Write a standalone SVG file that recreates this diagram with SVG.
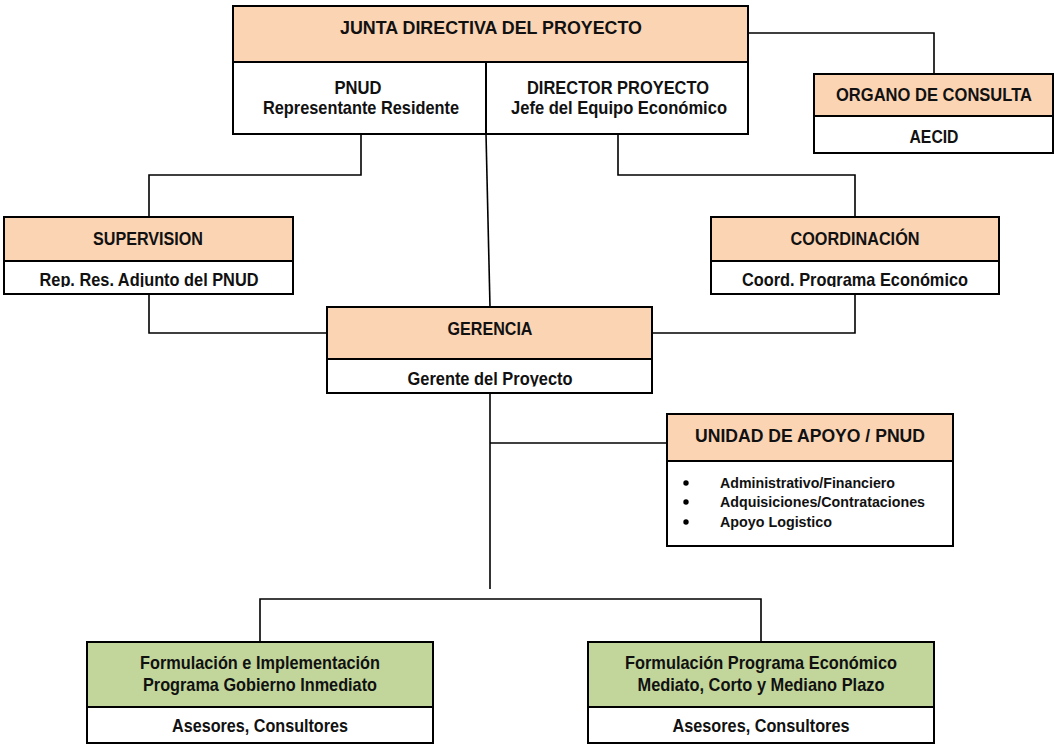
<svg xmlns="http://www.w3.org/2000/svg" width="1054" height="744" viewBox="0 0 1054 744">
<style>
.box{stroke:#000;stroke-width:2;}
.or{fill:#FBD4B4;}
.wh{fill:#FFFFFF;}
.gr{fill:#C2D69B;}
.t{font-family:"Liberation Sans Narrow","Liberation Sans",Arial,sans-serif;font-weight:bold;font-size:18.5px;fill:#111;text-anchor:middle;}
.s{font-family:"Liberation Sans Narrow","Liberation Sans",Arial,sans-serif;font-weight:bold;font-size:15px;fill:#111;}
.ln{fill:none;stroke:#000;stroke-width:1.6;}
</style>
<defs>
<clipPath id="c1"><rect x="0" y="260" width="1054" height="27"/></clipPath>
<clipPath id="c2"><rect x="0" y="360" width="1054" height="26.5"/></clipPath>
</defs>
<rect width="1054" height="744" fill="#fff"/>
<g id="connectors">
<polyline class="ln" points="748,33 934,33 934,74"/>
<polyline class="ln" points="361,134 361,175 149,175 149,217"/>
<polyline class="ln" points="618,134 618,175 855,175 855,217"/>
<line class="ln" x1="486" y1="134" x2="490" y2="307"/>
<polyline class="ln" points="149,294 149,333 327,333"/>
<polyline class="ln" points="855,294 855,333 652,333"/>
<line class="ln" x1="490" y1="393" x2="490" y2="589"/>
<line class="ln" x1="490" y1="443" x2="667" y2="443"/>
<polyline class="ln" points="260,642 260,599 761,599 761,642"/>
</g>
<g id="junta">
<rect class="box or" x="233" y="6" width="515" height="56"/>
<rect class="box wh" x="233" y="62" width="515" height="72"/>
<line class="box" x1="486" y1="62" x2="486" y2="134"/>
<text class="t" x="491" y="34" textLength="302" lengthAdjust="spacingAndGlyphs">JUNTA DIRECTIVA DEL PROYECTO</text>
<text class="t" x="358" y="94" textLength="47" lengthAdjust="spacingAndGlyphs">PNUD</text>
<text class="t" x="361" y="114" textLength="196" lengthAdjust="spacingAndGlyphs">Representante Residente</text>
<text class="t" x="618" y="94" textLength="182" lengthAdjust="spacingAndGlyphs">DIRECTOR PROYECTO</text>
<text class="t" x="619" y="114" textLength="216" lengthAdjust="spacingAndGlyphs">Jefe del Equipo Económico</text>
</g>
<g id="organo">
<rect class="box or" x="814" y="74" width="239" height="42"/>
<rect class="box wh" x="814" y="116" width="239" height="37"/>
<text class="t" x="934" y="101" textLength="196" lengthAdjust="spacingAndGlyphs">ORGANO DE CONSULTA</text>
<text class="t" x="934" y="143" textLength="49" lengthAdjust="spacingAndGlyphs">AECID</text>
</g>
<g id="supervision">
<rect class="box or" x="4" y="217" width="289" height="44"/>
<rect class="box wh" x="4" y="261" width="289" height="33"/>
<text class="t" x="148" y="245" textLength="110" lengthAdjust="spacingAndGlyphs">SUPERVISION</text>
<text class="t" x="149" y="286" textLength="219" lengthAdjust="spacingAndGlyphs" clip-path="url(#c1)">Rep. Res. Adjunto del PNUD</text>
</g>
<g id="coordinacion">
<rect class="box or" x="711" y="217" width="288" height="44"/>
<rect class="box wh" x="711" y="261" width="288" height="33"/>
<text class="t" x="855" y="245" textLength="129" lengthAdjust="spacingAndGlyphs">COORDINACIÓN</text>
<text class="t" x="855" y="286" textLength="226" lengthAdjust="spacingAndGlyphs" clip-path="url(#c1)">Coord. Programa Económico</text>
</g>
<g id="gerencia">
<rect class="box or" x="327" y="307" width="325" height="52"/>
<rect class="box wh" x="327" y="359" width="325" height="34"/>
<text class="t" x="490" y="335" textLength="85" lengthAdjust="spacingAndGlyphs">GERENCIA</text>
<text class="t" x="490" y="385" textLength="165" lengthAdjust="spacingAndGlyphs" clip-path="url(#c2)">Gerente del Proyecto</text>
</g>
<g id="unidad">
<rect class="box or" x="667" y="414" width="286" height="47"/>
<rect class="box wh" x="667" y="461" width="286" height="85"/>
<text class="t" x="810" y="442" textLength="230" lengthAdjust="spacingAndGlyphs">UNIDAD DE APOYO / PNUD</text>
<circle cx="686" cy="483" r="2.7"/>
<circle cx="686" cy="502" r="2.7"/>
<circle cx="686" cy="522" r="2.7"/>
<text class="s" x="720" y="488" textLength="175" lengthAdjust="spacingAndGlyphs">Administrativo/Financiero</text>
<text class="s" x="720" y="507" textLength="205" lengthAdjust="spacingAndGlyphs">Adquisiciones/Contrataciones</text>
<text class="s" x="720" y="527" textLength="112" lengthAdjust="spacingAndGlyphs">Apoyo Logistico</text>
</g>
<g id="formulacion-inmediato">
<rect class="box gr" x="87" y="642" width="346" height="65"/>
<rect class="box wh" x="87" y="707" width="346" height="36"/>
<text class="t" x="260" y="669" textLength="240" lengthAdjust="spacingAndGlyphs">Formulación e Implementación</text>
<text class="t" x="260" y="691" textLength="234" lengthAdjust="spacingAndGlyphs">Programa Gobierno Inmediato</text>
<text class="t" x="260" y="732" textLength="176" lengthAdjust="spacingAndGlyphs">Asesores, Consultores</text>
</g>
<g id="formulacion-economico">
<rect class="box gr" x="588" y="642" width="346" height="65"/>
<rect class="box wh" x="588" y="707" width="346" height="36"/>
<text class="t" x="761" y="669" textLength="272" lengthAdjust="spacingAndGlyphs">Formulación Programa Económico</text>
<text class="t" x="761" y="691" textLength="247" lengthAdjust="spacingAndGlyphs">Mediato, Corto y Mediano Plazo</text>
<text class="t" x="761" y="732" textLength="177" lengthAdjust="spacingAndGlyphs">Asesores, Consultores</text>
</g>
</svg>
